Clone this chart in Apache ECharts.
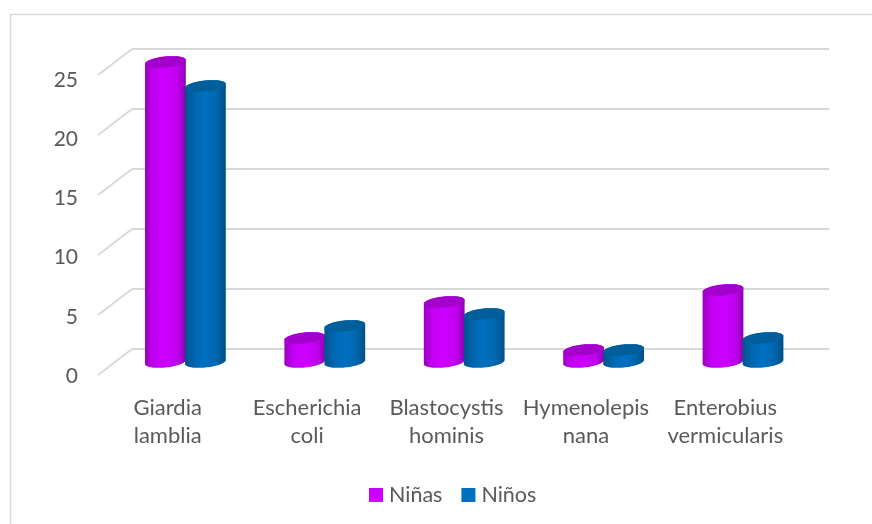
<!DOCTYPE html>
<html>
<head>
<meta charset="utf-8">
<style>html,body{margin:0;padding:0;background:#fff}#chart{width:872px;height:524px}</style>
<script src="https://cdn.jsdelivr.net/npm/echarts@6/dist/echarts.min.js"></script>
</head>
<body>
<div id="chart"></div>
<script>
const categories = ['Giardia\nlamblia', 'Escherichia\ncoli', 'Blastocystis\nhominis', 'Hymenolepis\nnana', 'Enterobius\nvermicularis'];
const ninas = [25, 2, 5, 1, 6];
const ninos = [23, 3, 4, 1, 2];
const seriesNames = ['Niñas', 'Niños'];

const FONT = 'Lato, sans-serif';
const TEXT = '#595959';
const GRID_LINE = '#d9d9d9';

// Receding depth of the floor: the wall sits up and to the right of the front edge.
const DEPTH_X = 34, DEPTH_Y = 26;
const RX = 20.5, RY = 5.5, TILT = -6 * Math.PI / 180, GAP = 20;

const ellipsePoint = (cx, cy, t) => [
  cx + RX * Math.cos(t) * Math.cos(TILT) - RY * Math.sin(t) * Math.sin(TILT),
  cy + RX * Math.cos(t) * Math.sin(TILT) + RY * Math.sin(t) * Math.cos(TILT)
];
const arc = (cx, cy, from, to) => {
  const pts = [];
  for (let i = 0; i <= 40; i++) pts.push(ellipsePoint(cx, cy, from + (to - from) * i / 40));
  return pts;
};

// Cylinder standing midway between the wall and the front edge.
function cylinder(side, stops, capColor) {
  return (params, api) => {
    const top = api.coord([api.value(0), api.value(1)]);
    const base = api.coord([api.value(0), 0]);
    const cx = top[0] - DEPTH_X / 2 + side * GAP + 0.7;
    const topY = top[1] + DEPTH_Y / 2;
    const baseY = base[1] + DEPTH_Y / 2;
    const t0 = Math.atan2(-RY * Math.sin(TILT), RX * Math.cos(TILT));
    const lower = arc(cx, baseY, t0, t0 + Math.PI);
    const upper = arc(cx, topY, t0 + Math.PI, t0 + 2 * Math.PI);
    return {
      type: 'group',
      children: [
        {
          type: 'polygon',
          shape: { points: lower.concat(upper) },
          style: { fill: new echarts.graphic.LinearGradient(0, 0, 1, 0, stops) }
        },
        {
          type: 'polygon',
          shape: { points: arc(cx, topY, 0, 2 * Math.PI) },
          style: { fill: capColor }
        }
      ]
    };
  };
}

// Side-wall lines running from each wall gridline towards the value labels.
function floorLine(params, api) {
  const p = api.coord([0, api.value(1)]);
  const x = params.coordSys.x;
  return {
    type: 'line',
    shape: { x1: x, y1: p[1], x2: x - DEPTH_X, y2: p[1] + DEPTH_Y },
    style: { stroke: GRID_LINE, lineWidth: 2 }
  };
}

const pinkStops = [
  { offset: 0, color: '#9a00c0' }, { offset: 0.22, color: '#c400f4' },
  { offset: 0.5, color: '#cc00ff' }, { offset: 0.8, color: '#c000ee' }, { offset: 1, color: '#8e00b2' }
];
const blueStops = [
  { offset: 0, color: '#00528c' }, { offset: 0.25, color: '#0068b2' },
  { offset: 0.5, color: '#0070c0' }, { offset: 0.78, color: '#0066ae' }, { offset: 1, color: '#004f86' }
];

const chart = echarts.init(document.getElementById('chart'), null, { renderer: 'canvas' });
chart.setOption({
  animation: false,
  backgroundColor: '#ffffff',
  textStyle: { fontFamily: FONT },
  graphic: [{
    type: 'rect',
    silent: true,
    shape: { x: 10.5, y: 14.5, width: 900, height: 560 },
    style: { fill: 'none', stroke: GRID_LINE, lineWidth: 1.5 }
  }],
  legend: {
    data: seriesNames,
    left: 369,
    top: 484,
    padding: 0,
    icon: 'rect',
    itemWidth: 14,
    itemHeight: 14,
    itemGap: 19,
    textStyle: { color: TEXT, fontFamily: FONT, fontSize: 21.5, padding: [0, 0, 0, 1] }
  },
  grid: [
    { left: 132, right: 43, top: 49, height: 300 },
    { left: 98, right: 77, top: 80, height: 296 }
  ],
  xAxis: [
    {
      gridIndex: 0, type: 'category', data: categories,
      axisLine: { show: false }, axisTick: { show: false }, axisLabel: { show: false }
    },
    {
      gridIndex: 1, type: 'category', data: categories,
      axisLine: { show: false }, axisTick: { show: false },
      axisLabel: { color: TEXT, fontFamily: FONT, fontSize: 22, lineHeight: 28, margin: 18, interval: 0 }
    }
  ],
  yAxis: [
    {
      gridIndex: 0, type: 'value', min: 0, max: 25, interval: 5,
      axisLine: { show: false }, axisTick: { show: false }, axisLabel: { show: false },
      splitLine: { lineStyle: { color: GRID_LINE, width: 2 } }
    },
    {
      gridIndex: 1, type: 'value', min: 0, max: 25, interval: 5,
      axisLine: { show: false }, axisTick: { show: false }, splitLine: { show: false },
      axisLabel: { color: TEXT, fontFamily: FONT, fontSize: 21, margin: 20 }
    }
  ],
  series: [
    {
      type: 'custom', name: 'floor', silent: true, z: 1,
      xAxisIndex: 0, yAxisIndex: 0,
      renderItem: floorLine,
      encode: { x: 0, y: 1 },
      data: [0, 5, 10, 15, 20, 25].map(v => [0, v])
    },
    {
      type: 'custom', name: seriesNames[0], z: 2,
      xAxisIndex: 0, yAxisIndex: 0,
      itemStyle: { color: '#cc00ff' },
      renderItem: cylinder(-1, pinkStops, '#a400cc'),
      encode: { x: 0, y: 1 },
      data: ninas.map((v, i) => [i, v])
    },
    {
      type: 'custom', name: seriesNames[1], z: 3,
      xAxisIndex: 0, yAxisIndex: 0,
      itemStyle: { color: '#0070c0' },
      renderItem: cylinder(1, blueStops, '#005f9a'),
      encode: { x: 0, y: 1 },
      data: ninos.map((v, i) => [i, v])
    }
  ]
});
</script>
</body>
</html>
